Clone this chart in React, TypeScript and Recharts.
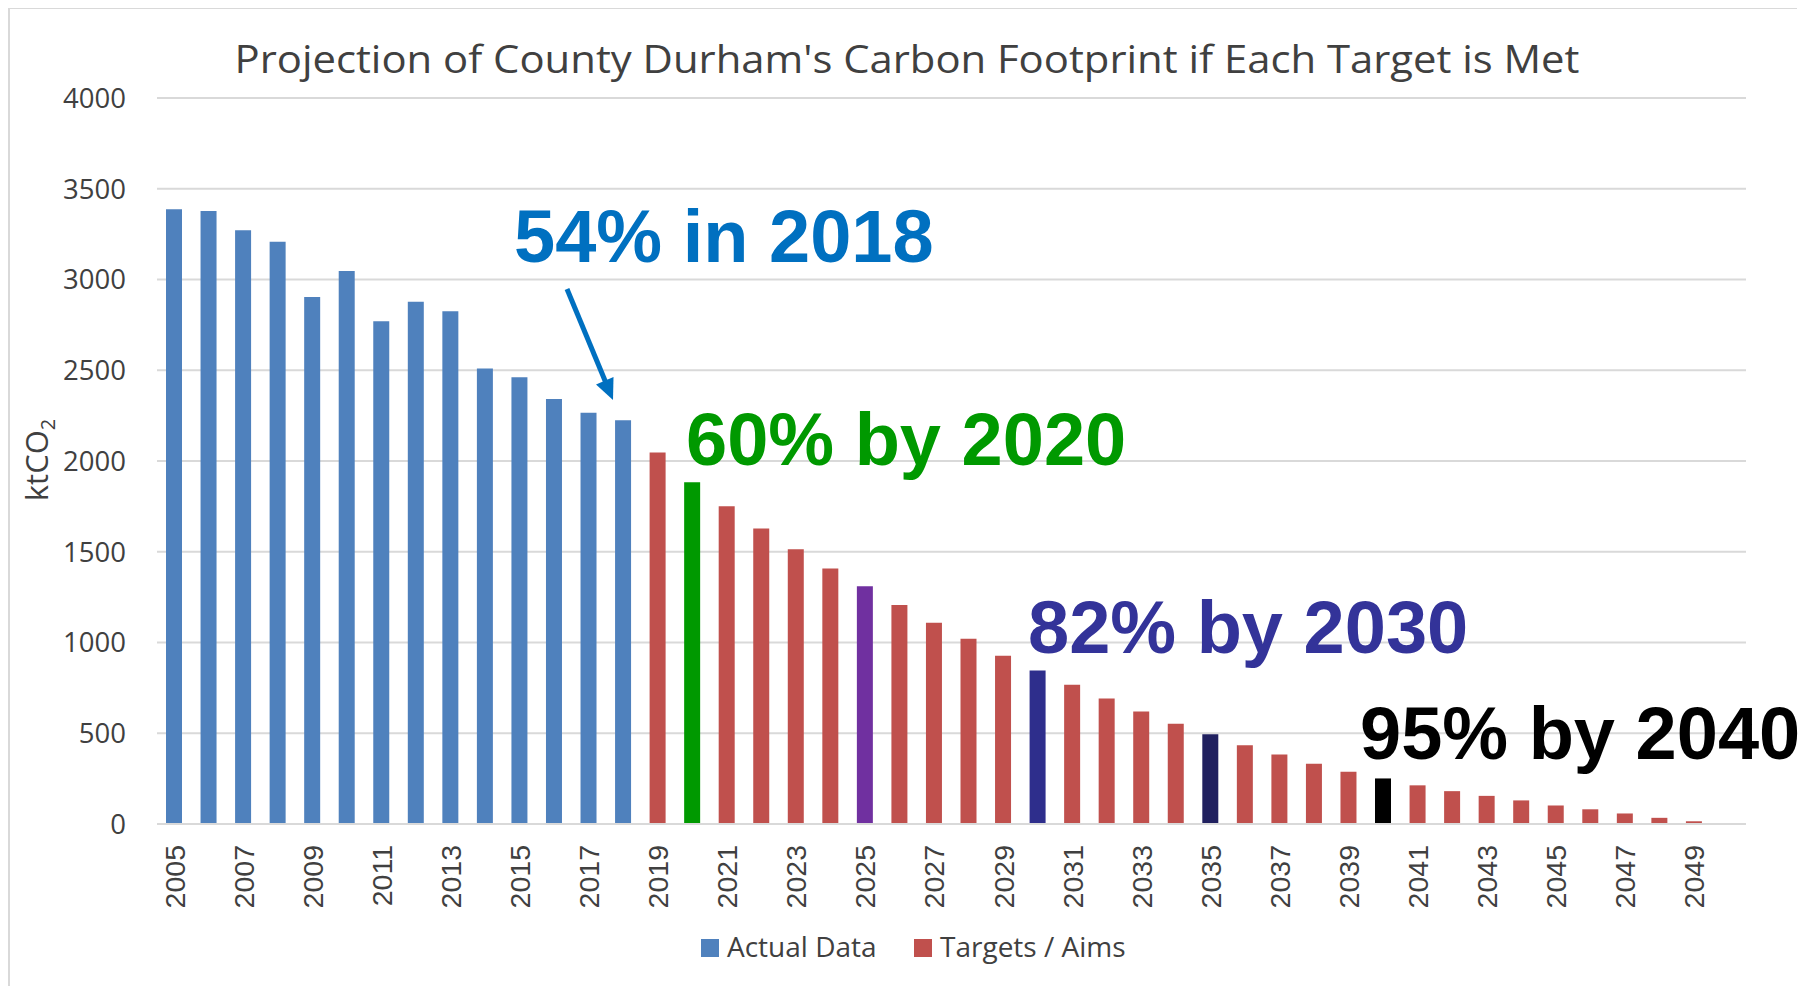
import React from "react";
import { BarChart, Bar, XAxis, YAxis, CartesianGrid, Legend, Cell } from "recharts";

const years = [
  "2005", "2006", "2007", "2008", "2009", "2010", "2011", "2012", "2013", "2014", "2015",
  "2016", "2017", "2018", "2019", "2020", "2021", "2022", "2023", "2024", "2025", "2026",
  "2027", "2028", "2029", "2030", "2031", "2032", "2033", "2034", "2035", "2036", "2037",
  "2038", "2039", "2040", "2041", "2042", "2043", "2044", "2045", "2046", "2047", "2048",
  "2049", "2050",
];

// Actual emissions 2005-2018 (ktCO2)
const actualData = [3387, 3378, 3271, 3208, 2904, 3047, 2770, 2878, 2825, 2510, 2461, 2341, 2266, 2224];

// Targets / aims 2019-2050 (ktCO2)
const targetData = [
  2047, 1883, 1751, 1628, 1514, 1408, 1310, 1206, 1109, 1020, 927, 846, 767, 692, 620, 552,
  494, 434, 383, 332, 288, 251, 213, 181, 155, 130, 102, 81, 58, 34, 15, 0,
];

const yTicks = [0, 500, 1000, 1500, 2000, 2500, 3000, 3500, 4000];

const highlightYears = ["2020", "2025", "2030", "2035", "2040"];
const highlightColors = ["#009900", "#7030A0", "#2E2E8C", "#20205F", "#000000"];

const BLUE = "#4F81BD";
const RED = "#C0504D";

const data = years.map((year, i) => ({
  year,
  actual: i < actualData.length ? actualData[i] : null,
  target: i >= actualData.length ? targetData[i - actualData.length] : null,
}));

const XTick = (props: any) => {
  const { x, y, payload } = props;
  return (
    <text
      transform={`translate(${x},${y + 21}) rotate(-90)`}
      textAnchor="end"
      dy="0.36em"
      fontFamily="'Liberation Sans', Arial, sans-serif"
      fontSize={28.5}
      fill="#404040"
    >
      {payload.value}
    </text>
  );
};

const LegendContent = () => (
  <svg width={1799} height={40} style={{ display: "block" }}>
    <rect x={693} y={11} width={18} height={18} fill={BLUE} />
    <text x={719} y={29} fontFamily="'Open Sans', sans-serif" fontSize={28} fill="#404040">
      Actual Data
    </text>
    <rect x={906} y={11} width={18} height={18} fill={RED} />
    <text x={932} y={29} fontFamily="'Open Sans', sans-serif" fontSize={28} fill="#404040">
      Targets / Aims
    </text>
  </svg>
);

export default function App() {
  const W = 1799;
  const H = 978;
  return (
    <div style={{ position: "relative", width: W, height: H }}>
      <div style={{ position: "absolute", left: 0, top: 0 }}>
        <BarChart
          width={W}
          height={H}
          data={data}
          margin={{ top: 90, right: 61, left: 0, bottom: 0 }}
          barSize={16}
        >
          <CartesianGrid vertical={false} stroke="#D9D9D9" strokeWidth={2} />
          <XAxis
            dataKey="year"
            interval={1}
            tick={<XTick />}
            tickLine={false}
            tickSize={0}
            tickMargin={0}
            height={122}
            axisLine={{ stroke: "#D9D9D9", strokeWidth: 2 }}
          />
          <YAxis
            domain={[0, 4000]}
            ticks={yTicks}
            width={149}
            tickLine={false}
            axisLine={false}
            tickSize={0}
            tickMargin={31}
            tick={{ fontFamily: "'Open Sans', sans-serif", fontSize: 27.5, fill: "#404040" }}
          />
          <Legend
            verticalAlign="bottom"
            width={W}
            height={40}
            wrapperStyle={{ left: 0, top: 920, width: W, height: 40 }}
            content={<LegendContent />}
          />
          <Bar dataKey="actual" name="Actual Data" stackId="a" fill={BLUE} isAnimationActive={false} />
          <Bar dataKey="target" name="Targets / Aims" stackId="a" fill={RED} isAnimationActive={false}>
            {data.map((d) => {
              const h = highlightYears.indexOf(d.year);
              return <Cell key={d.year} fill={h >= 0 ? highlightColors[h] : RED} />;
            })}
          </Bar>
        </BarChart>
      </div>
      <svg
        width={W}
        height={H}
        style={{ position: "absolute", left: 0, top: 0, pointerEvents: "none" }}
      >
        <line x1={1} y1={0} x2={1} y2={H} stroke="#D9D9D9" strokeWidth={2} />
        <line x1={0} y1={0} x2={1789} y2={0} stroke="#D9D9D9" strokeWidth={2} />
        <text
          x={899}
          y={65}
          textAnchor="middle"
          fontFamily="'Open Sans', sans-serif"
          fontSize={39}
          fill="#404040"
          textLength={1345}
          lengthAdjust="spacingAndGlyphs"
        >
          Projection of County Durham's Carbon Footprint if Each Target is Met
        </text>
        <text
          transform="translate(40,452) rotate(-90)"
          textAnchor="middle"
          fontFamily="'Open Sans', sans-serif"
          fontSize={31}
          fill="#404040"
        >
          ktCO<tspan fontSize={20} dy={7}>2</tspan>
        </text>
        <g fontFamily="'Liberation Sans', Arial, sans-serif" fontWeight="bold" fontSize={74}>
          <text x={506} y={254} fill="#0070C0">54% in 2018</text>
          <text x={678} y={457} fill="#009900">60% by 2020</text>
          <text x={1020} y={645} fill="#333399">82% by 2030</text>
          <text x={1352} y={751} fill="#000000">95% by 2040</text>
        </g>
        <line x1={559} y1={281} x2={598} y2={375} stroke="#0070C0" strokeWidth={5} />
        <polygon points="605,392 605.5,369 588,376.5" fill="#0070C0" />
      </svg>
    </div>
  );
}
